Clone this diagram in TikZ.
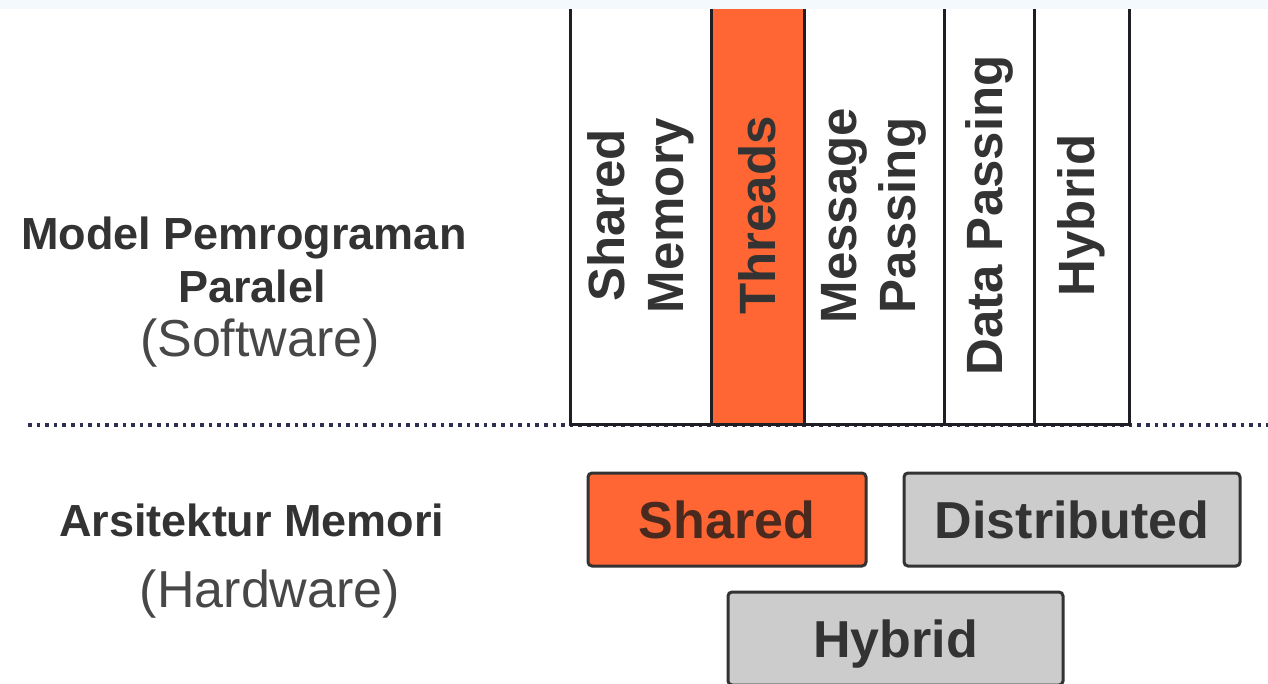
\documentclass[tikz,border=0pt]{standalone}
\usepackage{fontspec}
\setmainfont{Liberation Sans}
\definecolor{ink}{HTML}{333333}
\definecolor{sharedink}{HTML}{4A2A1E}
\definecolor{frame}{HTML}{1E1E24}
\definecolor{orangefill}{HTML}{FF6633}
\definecolor{greyfill}{HTML}{CCCCCC}
\definecolor{dotline}{HTML}{2E2E4E}
\definecolor{topband}{HTML}{F4F9FD}
\tikzset{
  col/.style={draw=frame, fill=white, line width=3pt, rotate=90,
    minimum width=417pt, inner sep=0pt, align=center,
    font=\bfseries\fontsize{51}{59}\selectfont, text=ink},
  hwbox/.style={draw=ink, line width=3pt, rounded corners=4pt,
    minimum height=93pt, inner sep=0pt, text height=37pt, text depth=0pt,
    font=\bfseries\fontsize{52}{60}\selectfont, text=ink},
  lbl/.style={anchor=base, inner sep=0pt, text=ink},
  lblbold/.style={lbl, font=\bfseries\fontsize{45}{54}\selectfont},
  lblplain/.style={lbl, font=\fontsize{52}{60}\selectfont, text=ink!90!white},
}
\begin{document}
\begin{tikzpicture}[x=1pt, y=-1pt]
  \useasboundingbox (0,0) rectangle (1268,683);
  \fill[white] (0,0) rectangle (1268,683);

  % software / hardware divider
  \coordinate (dl) at (28,425);
  \coordinate (dr) at (1268,425);
  \draw[dotline, line width=3.6pt, dash pattern=on 3.6pt off 5pt] (dl) -- (dr);

  % programming-model columns
  \node[col, minimum height=141pt] (c1) at (640.5,215.5) {Shared\\Memory};
  \node[col, fill=orangefill, minimum height=93pt] (c2) at (757.5,215.5) {Threads};
  \node[col, minimum height=140pt] (c3) at (874,215.5) {Message\\Passing};
  \node[col, minimum height=90pt] (c4) at (989,215.5) {Data Passing};
  \node[col, minimum height=95pt] (c5) at (1081.5,215.5) {Hybrid};

  % thin band along the top edge
  \fill[topband] (0,0) rectangle (1268,8.5);

  % memory-architecture boxes
  \node[hwbox, fill=orangefill, text=sharedink, minimum width=278pt] (hs) at (727,519.5) {Shared};
  \node[hwbox, fill=greyfill, minimum width=336pt] (hd) at (1072,519.5) {Distributed};
  \node[hwbox, fill=greyfill, minimum width=335pt] (hh) at (895.5,638.5) {Hybrid};

  % row captions
  \node[lblbold] (m1) at (244,249) {Model Pemrograman};
  \node[lblbold] (m2) at (252,302) {Paralel};
  \node[lblplain] (m3) at (260,356) {(Software)};
  \node[lblbold] (a1) at (252,536) {Arsitektur Memori};
  \node[lblplain] (a2) at (270,607) {(Hardware)};
\end{tikzpicture}
\end{document}
